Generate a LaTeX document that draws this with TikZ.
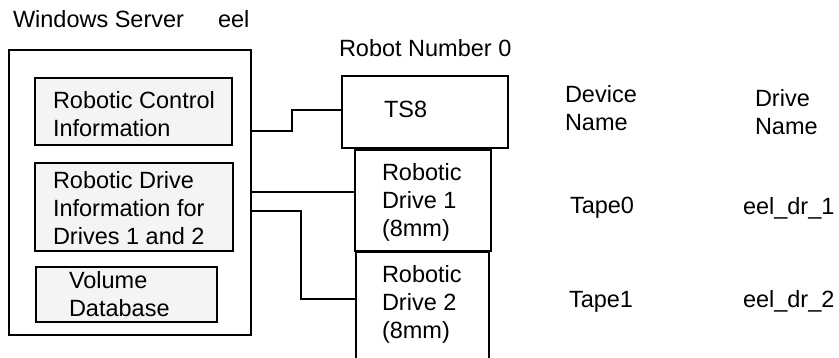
\documentclass[tikz,border=0pt]{standalone}
\usepackage{fontspec}
\setmainfont{Liberation Sans}
\definecolor{boxgray}{HTML}{F4F4F4}
\newcommand{\mlines}[1]{\begin{tabular}[t]{@{}l@{}}#1\end{tabular}}
\begin{document}
\begin{tikzpicture}[x=1pt,y=-1pt,
  every node/.style={font=\fontsize{23.5}{28}\selectfont, inner sep=0pt, outer sep=0pt},
  frame/.style={draw, line width=1.8pt, anchor=north west},
  box/.style={frame, fill=boxgray},
  txt/.style={anchor=base west},
  conn/.style={line width=1.8pt}]
\useasboundingbox (0,0) rectangle (839,357);
% boxes
\node[frame, minimum width=242, minimum height=285] (server) at (9,50) {};
\node[box, minimum width=197, minimum height=67] (rci) at (35,78) {};
\node[box, minimum width=198, minimum height=88] (rdi) at (35,163) {};
\node[box, minimum width=181, minimum height=55] (vdb) at (36,267) {};
\node[frame, minimum width=166, minimum height=72] (ts8) at (342,76) {};
\node[frame, minimum width=136, minimum height=101] (drive1) at (355,150) {};
\node[minimum width=133, minimum height=110, anchor=north west] (drive2) at (356,252) {};
\draw[conn] (drive2.south west) -- (drive2.north west) -- (drive2.north east) -- (drive2.south east);
% texts
\node[txt] (title) at (13,27) {Windows Server};
\node[txt] (host) at (218,27) {eel};
\node[txt] (rcit) at (53,108) {\mlines{Robotic Control\\Information}};
\node[txt] (rdit) at (53,188) {\mlines{Robotic Drive\\Information for\\Drives 1 and 2}};
\node[txt] (vdbt) at (69,288) {\mlines{Volume\\Database}};
\node[txt] (robot) at (339,56) {Robot Number 0};
\node[txt] (ts8t) at (384,117) {TS8};
\node[txt] (d1t) at (382,180) {\mlines{Robotic\\Drive 1\\(8mm)}};
\node[txt] (d2t) at (382,282) {\mlines{Robotic\\Drive 2\\(8mm)}};
\node[txt] (devh) at (565,102) {\mlines{Device\\Name}};
\node[txt] (drvh) at (755,106) {\mlines{Drive\\Name}};
\node[txt] (tape0) at (570,213) {Tape0};
\node[txt] (dr1) at (743,214) {eel\_dr\_1};
\node[txt] (tape1) at (569,307) {Tape1};
\node[txt] (dr2) at (743,307) {eel\_dr\_2};
% connectors
\coordinate (ya) at (0,131);
\coordinate (yb) at (0,110);
\coordinate (ym) at (0,192);
\coordinate (yc) at (0,211);
\coordinate (yd) at (0,299);
\draw[conn] (server.east |- ya) -- (292,131) -- (292,110) -- (ts8.west |- yb);
\draw[conn] (server.east |- ym) -- (drive1.west |- ym);
\draw[conn] (server.east |- yc) -- (301,211) -- (301,299) -- (drive2.west |- yd);
\end{tikzpicture}
\end{document}
